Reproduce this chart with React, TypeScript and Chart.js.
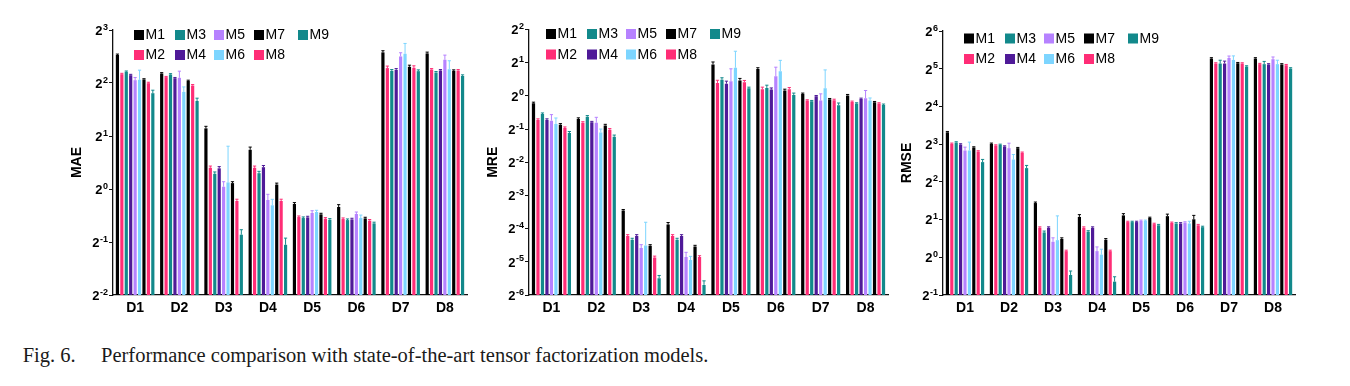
import React, { useEffect, useRef } from "react";
import { Chart, registerables } from "chart.js";

Chart.register(...registerables);

// ---------- data ----------
const categories = ["D1", "D2", "D3", "D4", "D5", "D6", "D7", "D8"];
const seriesNames = ["M1", "M2", "M3", "M4", "M5", "M6", "M7", "M8", "M9"];
const seriesColors = [
  "#000000",
  "#ff2d76",
  "#12898b",
  "#4f1a98",
  "#b682ff",
  "#7dd5ff",
  "#000000",
  "#ff2d76",
  "#12898b",
];

// rows = M1..M9, columns = D1..D8
const maeValues = [
  [5.76, 4.53, 2.21, 1.67, 0.822, 0.79, 5.97, 5.89],
  [4.49, 4.32, 1.32, 1.32, 0.693, 0.675, 4.86, 4.77],
  [4.63, 4.47, 1.22, 1.23, 0.684, 0.666, 4.69, 4.59],
  [4.43, 4.26, 1.31, 1.33, 0.69, 0.672, 4.75, 4.71],
  [4.15, 4.28, 1.03, 0.866, 0.731, 0.721, 5.66, 5.42],
  [4.17, 3.56, 1.09, 0.808, 0.74, 0.684, 5.86, 4.79],
  [4.19, 4.11, 1.08, 1.06, 0.718, 0.681, 4.95, 4.69],
  [3.99, 3.87, 0.855, 0.855, 0.678, 0.661, 4.88, 4.71],
  [3.5, 3.16, 0.55, 0.482, 0.669, 0.638, 4.67, 4.39],
];
const maeErrors = [
  [0.08, 0.05, 0.06, 0.06, 0.015, 0.025, 0.13, 0.1],
  [0.05, 0.04, 0.03, 0.03, 0.01, 0.01, 0.13, 0.06],
  [0.05, 0.05, 0.03, 0.03, 0.01, 0.01, 0.08, 0.06],
  [0.05, 0.04, 0.03, 0.03, 0.01, 0.01, 0.08, 0.06],
  [0.15, 0.39, 0.07, 0.067, 0.022, 0.019, 0.28, 0.34],
  [0.56, 0.24, 0.66, 0.066, 0.017, 0.027, 0.85, 0.56],
  [0.04, 0.04, 0.02, 0.02, 0.01, 0.01, 0.1, 0.06],
  [0.05, 0.05, 0.02, 0.02, 0.01, 0.01, 0.13, 0.06],
  [0.14, 0.12, 0.037, 0.044, 0.01, 0.01, 0.08, 0.06],
];

const mreValues = [
  [0.857, 0.617, 0.0912, 0.068, 1.93, 1.75, 1.04, 1.01],
  [0.604, 0.571, 0.0536, 0.0536, 1.31, 1.15, 0.907, 0.882],
  [0.685, 0.648, 0.0496, 0.0496, 1.4, 1.18, 0.894, 0.851],
  [0.604, 0.575, 0.0536, 0.0536, 1.29, 1.14, 0.993, 0.939],
  [0.596, 0.571, 0.0416, 0.0345, 1.36, 1.51, 0.907, 0.952],
  [0.556, 0.466, 0.044, 0.0324, 1.8, 1.67, 1.17, 0.907],
  [0.548, 0.54, 0.0437, 0.0431, 1.38, 1.12, 0.932, 0.875],
  [0.511, 0.493, 0.0342, 0.0345, 1.33, 1.15, 0.913, 0.851],
  [0.46, 0.426, 0.0222, 0.0193, 1.17, 1.02, 0.822, 0.828],
];
const mreErrors = [
  [0.02, 0.015, 0.002, 0.003, 0.1, 0.05, 0.02, 0.02],
  [0.015, 0.012, 0.0015, 0.0015, 0.075, 0.05, 0.015, 0.015],
  [0.015, 0.015, 0.0015, 0.0015, 0.06, 0.07, 0.015, 0.015],
  [0.015, 0.012, 0.0015, 0.0015, 0.07, 0.04, 0.015, 0.015],
  [0.08, 0.068, 0.0031, 0.0036, 0.4, 0.31, 0.136, 0.167],
  [0.074, 0.034, 0.0274, 0.0026, 0.74, 0.43, 0.55, 0.05],
  [0.012, 0.012, 0.001, 0.001, 0.06, 0.03, 0.015, 0.015],
  [0.012, 0.012, 0.001, 0.001, 0.05, 0.04, 0.02, 0.015],
  [0.015, 0.015, 0.0013, 0.0017, 0.03, 0.04, 0.04, 0.015],
];

const rmseValues = [
  [9.95, 8.04, 2.71, 2.1, 2.16, 2.13, 38.6, 38.6],
  [8.04, 7.8, 1.72, 1.72, 1.91, 1.88, 35.2, 34.8],
  [8.24, 7.9, 1.58, 1.6, 1.91, 1.86, 35.2, 34.8],
  [7.94, 7.66, 1.72, 1.72, 1.91, 1.86, 35.2, 34.6],
  [7.12, 7.43, 1.33, 1.12, 1.95, 1.89, 39.0, 38.1],
  [7.12, 6.03, 1.37, 1.05, 1.95, 1.86, 37.6, 34.8],
  [7.52, 7.43, 1.4, 1.38, 2.06, 2.01, 35.4, 34.6],
  [6.99, 6.82, 1.12, 1.12, 1.84, 1.8, 35.2, 34.1],
  [5.75, 5.15, 0.722, 0.639, 1.8, 1.74, 33.3, 32.1],
];
const rmseErrors = [
  [0.15, 0.12, 0.05, 0.09, 0.07, 0.08, 0.6, 0.6],
  [0.12, 0.1, 0.03, 0.03, 0.03, 0.03, 0.5, 0.5],
  [0.12, 0.1, 0.04, 0.03, 0.03, 0.03, 2.2, 1.8],
  [0.12, 0.1, 0.03, 0.03, 0.03, 0.03, 1.6, 0.5],
  [0.45, 0.71, 0.1, 0.09, 0.03, 0.03, 1.4, 1.6],
  [1.18, 0.58, 0.77, 0.11, 0.03, 0.08, 2.9, 2.6],
  [0.1, 0.1, 0.03, 0.03, 0.03, 0.15, 0.5, 0.5],
  [0.1, 0.1, 0.02, 0.02, 0.03, 0.03, 0.5, 0.5],
  [0.29, 0.26, 0.055, 0.06, 0.03, 0.03, 0.5, 0.5],
];

const maeExponents = [-2, -1, 0, 1, 2, 3];
const mreExponents = [-6, -5, -4, -3, -2, -1, 0, 1, 2];
const rmseExponents = [-1, 0, 1, 2, 3, 4, 5, 6];

const captionLabel = "Fig. 6.";
const captionText = "Performance comparison with state-of-the-art tensor factorization models.";

// ---------- layout ----------
const SANS = '"Liberation Sans", Arial, Helvetica, sans-serif';
const CANVAS_H = 330;
const PLOT_BOTTOM = 295;
const Y_AXIS_W = 60;
const PAD_R = 8;
const CAPTION_FONT = 20.5;

type PanelCfg = {
  title: string;
  values: number[][];
  errors: number[][];
  exps: number[];
  axisX: number;
  right: number;
  top: number;
  legendCols: number[];
  legendRows: number[];
};

const panels: PanelCfg[] = [
  {
    title: "MAE",
    values: maeValues,
    errors: maeErrors,
    exps: maeExponents,
    axisX: 113,
    right: 467,
    top: 30,
    legendCols: [21, 62, 101, 141, 185],
    legendRows: [35, 55],
  },
  {
    title: "MRE",
    values: mreValues,
    errors: mreErrors,
    exps: mreExponents,
    axisX: 529,
    right: 888,
    top: 29.5,
    legendCols: [17, 58, 97, 137, 181],
    legendRows: [34, 54.5],
  },
  {
    title: "RMSE",
    values: rmseValues,
    errors: rmseErrors,
    exps: rmseExponents,
    axisX: 943,
    right: 1295,
    top: 31,
    legendCols: [21, 62, 101, 141, 185],
    legendRows: [38.5, 59],
  },
];

function makeDecor(cfg: PanelCfg) {
  return {
    id: "decor",
    afterDatasetsDraw(chart: any) {
      const ctx = chart.ctx as CanvasRenderingContext2D;
      const y = chart.scales.y;
      chart.data.datasets.forEach((ds: any, di: number) => {
        const meta = chart.getDatasetMeta(di);
        meta.data.forEach((el: any, i: number) => {
          const v = ds.data[i];
          const e = ds.errors[i];
          const yTop = y.getPixelForValue(v + e);
          const w = el.width;
          ctx.save();
          ctx.strokeStyle = ds.backgroundColor;
          ctx.lineWidth = 1;
          ctx.beginPath();
          ctx.moveTo(el.x, el.y);
          ctx.lineTo(el.x, yTop);
          ctx.moveTo(el.x - w / 2, yTop);
          ctx.lineTo(el.x + w / 2, yTop);
          ctx.stroke();
          ctx.restore();
        });
      });
    },
    afterDraw(chart: any) {
      const ctx = chart.ctx as CanvasRenderingContext2D;
      const y = chart.scales.y;
      const area = chart.chartArea;
      ctx.save();
      ctx.fillStyle = "#000";
      // y tick labels 2^n
      cfg.exps.forEach((e) => {
        const py = y.getPixelForValue(Math.pow(2, e));
        const expStr = String(e);
        ctx.font = `bold 9px ${SANS}`;
        ctx.textAlign = "right";
        ctx.textBaseline = "alphabetic";
        const expRight = area.left - 5;
        ctx.fillText(expStr, expRight, py - 0.5);
        const ew = ctx.measureText(expStr).width;
        ctx.font = `bold 13px ${SANS}`;
        ctx.fillText("2", expRight - ew - 0.5, py + 4.8);
      });
      // y title
      ctx.save();
      ctx.translate(area.left - 36, (area.top + area.bottom) / 2);
      ctx.rotate(-Math.PI / 2);
      ctx.font = `bold 14px ${SANS}`;
      ctx.textAlign = "center";
      ctx.textBaseline = "middle";
      ctx.fillText(cfg.title, 0, 0);
      ctx.restore();
      // legend (column-major: M1,M2 | M3,M4 | ...)
      ctx.font = `14px ${SANS}`;
      ctx.textAlign = "left";
      ctx.textBaseline = "middle";
      seriesNames.forEach((name, i) => {
        const col = Math.floor(i / 2);
        const row = i % 2;
        const bx = area.left + cfg.legendCols[col];
        const by = cfg.legendRows[row];
        ctx.fillStyle = seriesColors[i];
        ctx.fillRect(bx, by - 5, 10, 10);
        ctx.fillStyle = "#000";
        ctx.fillText(name, bx + 11.5, by + 0.5);
      });
      ctx.restore();
    },
  };
}

function Panel({ cfg }: { cfg: PanelCfg }) {
  const ref = useRef<HTMLCanvasElement>(null);
  const plotW = cfg.right - cfg.axisX;
  const W = Y_AXIS_W + plotW + PAD_R;
  const left = cfg.axisX - Y_AXIS_W;

  useEffect(() => {
    const canvas = ref.current;
    if (!canvas) return;
    const datasets = seriesNames.map((name, i) => ({
      label: name,
      data: cfg.values[i],
      errors: cfg.errors[i],
      backgroundColor: seriesColors[i],
      borderWidth: 0,
    }));
    const chart = new Chart(canvas, {
      type: "bar",
      data: { labels: categories, datasets: datasets as any },
      options: {
        animation: false,
        responsive: false,
        devicePixelRatio: 1,
        layout: { padding: { top: cfg.top, right: PAD_R, left: 0, bottom: 0 } },
        plugins: { legend: { display: false }, tooltip: { enabled: false } },
        datasets: { bar: { categoryPercentage: 0.9, barPercentage: 0.72 } },
        scales: {
          x: {
            type: "category",
            offset: true,
            grid: { display: false, drawTicks: false },
            border: { display: true, color: "#111", width: 1.3 },
            ticks: {
              color: "#000",
              font: { family: SANS, size: 14, weight: "bold" },
              padding: 5,
              maxRotation: 0,
              autoSkip: false,
            },
            afterFit: (s: any) => {
              s.height = CANVAS_H - PLOT_BOTTOM;
            },
          },
          y: {
            type: "logarithmic",
            min: Math.pow(2, cfg.exps[0]),
            max: Math.pow(2, cfg.exps[cfg.exps.length - 1]),
            afterBuildTicks: (s: any) => {
              s.ticks = cfg.exps.map((e) => ({ value: Math.pow(2, e) }));
            },
            ticks: { display: false },
            grid: {
              display: true,
              drawOnChartArea: false,
              drawTicks: true,
              tickLength: 4,
              color: "#111",
              lineWidth: 1,
            },
            border: { display: true, color: "#111", width: 1.3 },
            afterFit: (s: any) => {
              s.width = Y_AXIS_W;
            },
          },
        },
      } as any,
      plugins: [makeDecor(cfg) as any],
    });
    return () => chart.destroy();
  }, []);

  return (
    <canvas
      ref={ref}
      width={W}
      height={CANVAS_H}
      style={{ position: "absolute", left, top: 0, width: W, height: CANVAS_H }}
    />
  );
}

const captionStyle: React.CSSProperties = {
  position: "absolute",
  top: 362 - CAPTION_FONT * 0.8375,
  font: `${CAPTION_FONT}px "Liberation Serif", "Times New Roman", serif`,
  lineHeight: `${CAPTION_FONT}px`,
  color: "#1a1a1a",
  whiteSpace: "nowrap",
};

export default function App() {
  return (
    <div
      style={{
        position: "absolute",
        left: 0,
        top: 0,
        width: 1350,
        height: 386,
        background: "#fff",
        overflow: "hidden",
      }}
    >
      {panels.map((p) => (
        <Panel key={p.title} cfg={p} />
      ))}
      <div style={{ ...captionStyle, left: 22.7 }}>{captionLabel}</div>
      <div style={{ ...captionStyle, left: 101 }}>{captionText}</div>
    </div>
  );
}
